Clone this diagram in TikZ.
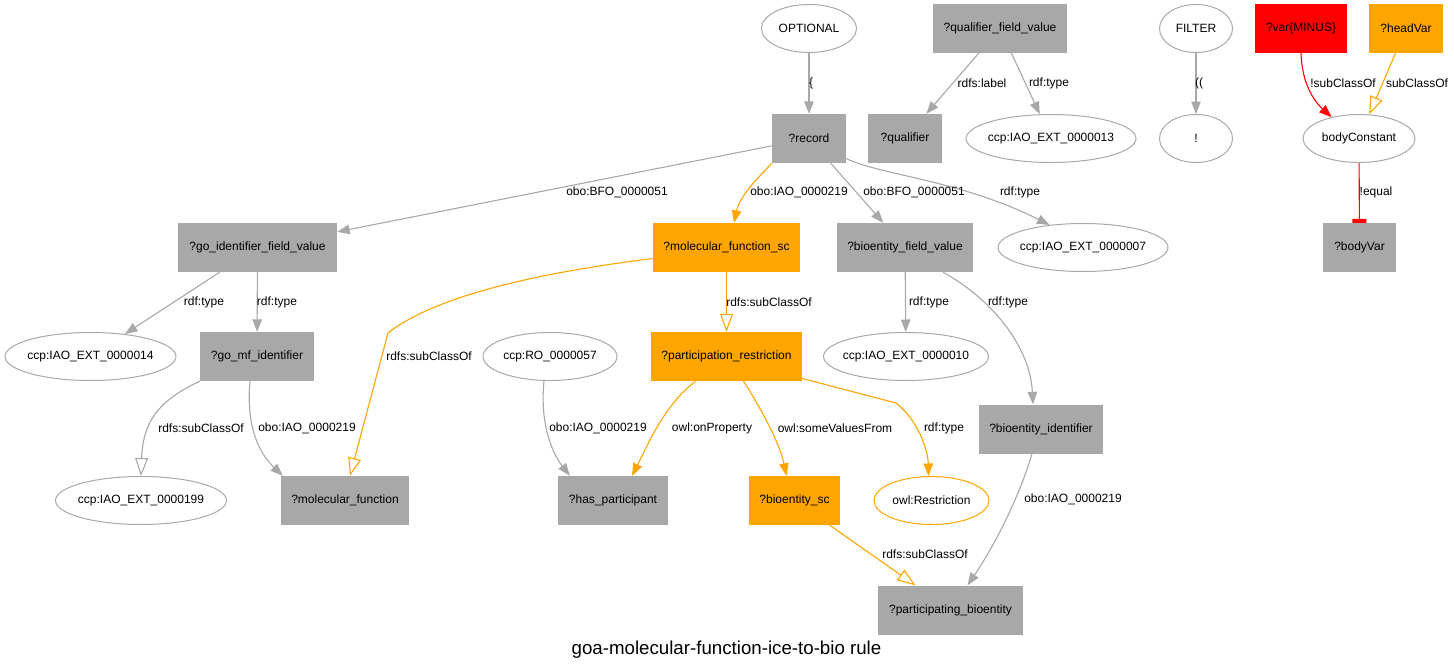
\documentclass[tikz,border=0pt]{standalone}
\usepackage{fontspec}
\setmainfont{Liberation Sans}
\usetikzlibrary{arrows.meta,shapes.geometric}
\definecolor{gfill}{HTML}{A8A8A8}
\definecolor{gline}{HTML}{A8A8A8}
\definecolor{ofill}{HTML}{FFA500}
\definecolor{rfill}{HTML}{FF0000}
\begin{document}
\begin{tikzpicture}[x=1pt,y=-1pt,
  nfont/.style={font=\fontsize{12}{14}\selectfont},
  gbox/.style={rectangle, fill=gfill, minimum height=49pt, inner sep=0pt, nfont},
  obox/.style={gbox, fill=ofill},
  rbox/.style={gbox, fill=rfill},
  gell/.style={ellipse, draw=gline, line width=1pt, minimum height=48pt, inner xsep=-10pt, inner ysep=0pt, nfont},
  oell/.style={gell, draw=ofill},
  lab/.style={inner sep=0pt, nfont},
  ge/.style={draw=gline, line width=1.1pt, -{Triangle[length=12.5pt,width=9.5pt]}},
  oe/.style={ge, draw=ofill},
  re/.style={ge, draw=rfill},
  gsub/.style={draw=gline, line width=1.1pt, -{Triangle[open,length=18pt,width=13pt]}},
  osub/.style={gsub, draw=ofill},
  rtee/.style={draw=rfill, line width=1.1pt, -{Rectangle[length=4pt,width=14pt]}},
]
\useasboundingbox (0,0) rectangle (1454,672);

% nodes
\node[gell, minimum width=95pt] (opt) at (809,28.5) {OPTIONAL};
\node[gbox, minimum width=134pt] (qfv) at (1000,28.5) {?qualifier\_field\_value};
\node[gell, minimum width=73pt] (filt) at (1196,28.5) {FILTER};
\node[rbox, minimum width=92pt] (var) at (1301,28.5) {?var\{MINUS\}};
\node[obox, minimum width=74pt] (hv) at (1406,28.5) {?headVar};
\node[gbox, minimum width=74pt] (rec) at (809,138.5) {?record};
\node[gbox, minimum width=74pt] (qual) at (905,138.5) {?qualifier};
\node[gell, minimum width=170pt] (iao13) at (1051,138.5) {ccp:IAO\_EXT\_0000013};
\node[gell, minimum width=73pt] (bang) at (1196,138.5) {!};
\node[gell, minimum width=112pt] (bc) at (1359,138.5) {bodyConstant};
\node[gbox, minimum width=159pt] (gofv) at (257.5,247.5) {?go\_identifier\_field\_value};
\node[obox, minimum width=147pt] (mfsc) at (726.5,247.5) {?molecular\_function\_sc};
\node[gbox, minimum width=136pt] (bfv) at (905,247.5) {?bioentity\_field\_value};
\node[gell, minimum width=170pt] (iao7) at (1083,247.5) {ccp:IAO\_EXT\_0000007};
\node[gbox, minimum width=73pt] (bv) at (1359.5,247.5) {?bodyVar};
\node[gell, minimum width=171pt] (iao14) at (90.5,356.5) {ccp:IAO\_EXT\_0000014};
\node[gbox, minimum width=114pt] (gomf) at (257,356.5) {?go\_mf\_identifier};
\node[gell, minimum width=134pt] (ro) at (550,356.5) {ccp:RO\_0000057};
\node[obox, minimum width=151pt] (pr) at (726.5,356.5) {?participation\_restriction};
\node[gell, minimum width=165pt] (iao10) at (906,356.5) {ccp:IAO\_EXT\_0000010};
\node[gbox, minimum width=124pt] (bi) at (1041,429) {?bioentity\_identifier};
\node[gell, minimum width=171pt] (iao199) at (141,500.5) {ccp:IAO\_EXT\_0000199};
\node[gbox, minimum width=128pt] (mf) at (345,500.5) {?molecular\_function};
\node[gbox, minimum width=110pt] (hp) at (613,500.5) {?has\_participant};
\node[obox, minimum width=91pt] (bsc) at (794.5,500.5) {?bioentity\_sc};
\node[oell, minimum width=115pt] (owl) at (931.5,500.5) {owl:Restriction};
\node[gbox, minimum width=145pt] (pb) at (950.5,610) {?participating\_bioentity};
\node[font=\fontsize{18.7}{22}\selectfont, inner sep=0pt] (title) at (726.5,650) {goa-molecular-function-ice-to-bio rule};

% edges
\draw[ge] (opt) -- (rec);
\draw[ge] (qfv) -- (qual);
\draw[ge] (qfv) -- (iao13);
\draw[ge] (filt) -- (bang);
\draw[re] (var.south) .. controls (1302,85) and (1315,102) .. (bc.142);
\draw[osub] (hv) -- (bc);
\draw[rtee] (bc) -- (bv);
\draw[ge] (rec) -- (gofv);
\draw[oe] (rec.south west) .. controls (760,176) and (740,195) .. ([xshift=7.5pt]mfsc.north);
\draw[ge] (rec) -- (bfv);
\draw[ge] ([yshift=-20pt]rec.east) .. controls (880,175) and (960,180) .. (iao7.146);
\draw[ge] (gofv) -- (iao14);
\draw[ge] (gofv) -- (gomf);
\draw[osub] ([yshift=-11pt]mfsc.west) .. controls (520,275) and (430,300) .. (388,333) -- ([xshift=5pt]mf.north);
\draw[osub] (mfsc) -- (pr);
\draw[ge] (bfv) -- (iao10);
\draw[ge] ([xshift=38pt]bfv.south) .. controls (990,298) and (1030,345) .. ([xshift=-8pt]bi.north);
\draw[gsub] (gomf.south west) .. controls (160,400) and (143,420) .. (iao199.north);
\draw[ge] ([xshift=-7pt]gomf.south) .. controls (246,425) and (258,452) .. ([xshift=2pt]mf.north west);
\draw[ge] ([xshift=-6pt]ro.south) .. controls (540,420) and (550,450) .. ([xshift=12pt]hp.north west);
\draw[oe] ([xshift=-31pt]pr.south) .. controls (665,405) and (650,440) .. ([xshift=19pt]hp.north);
\draw[oe] ([xshift=17pt]pr.south) .. controls (765,415) and (780,445) .. ([xshift=-8pt]bsc.north);
\draw[oe] ([yshift=-22pt]pr.east) -- (896,403) .. controls (918,420) and (928,450) .. ([xshift=-3pt]owl.north);
\draw[osub] (bsc) -- (pb);
\draw[ge] ([xshift=-9pt]bi.south) .. controls (1020,495) and (995,545) .. ([xshift=17pt]pb.north);

% labels
\node[lab] (l1) at (811,83) {\{};
\node[lab] (l2) at (982,83) {rdfs:label};
\node[lab] (l3) at (1049,83) {rdf:type};
\node[lab] (l4) at (1199,83) {((};
\node[lab] (l5) at (1343,83) {!subClassOf};
\node[lab] (l6) at (1417,83) {subClassOf};
\node[lab] (l7) at (1376,192) {!equal};
\node[lab] (l8) at (617,192) {obo:BFO\_0000051};
\node[lab] (l9) at (799,192) {obo:IAO\_0000219};
\node[lab] (l10) at (914,192) {obo:BFO\_0000051};
\node[lab] (l11) at (1020,192) {rdf:type};
\node[lab] (l12) at (204,302) {rdf:type};
\node[lab] (l13) at (277,302) {rdf:type};
\node[lab] (l15) at (769,302) {rdfs:subClassOf};
\node[lab] (l16) at (929,302) {rdf:type};
\node[lab] (l17) at (1008,302) {rdf:type};
\node[lab] (l14) at (429,356) {rdfs:subClassOf};
\node[lab] (l18) at (201,428) {rdfs:subClassOf};
\node[lab] (l19) at (307,428) {obo:IAO\_0000219};
\node[lab] (l20) at (598,428) {obo:IAO\_0000219};
\node[lab] (l21) at (712,428) {owl:onProperty};
\node[lab] (l22) at (835,428) {owl:someValuesFrom};
\node[lab] (l23) at (944,428) {rdf:type};
\node[lab] (l25) at (1073,499) {obo:IAO\_0000219};
\node[lab] (l24) at (925,554) {rdfs:subClassOf};
\end{tikzpicture}
\end{document}
